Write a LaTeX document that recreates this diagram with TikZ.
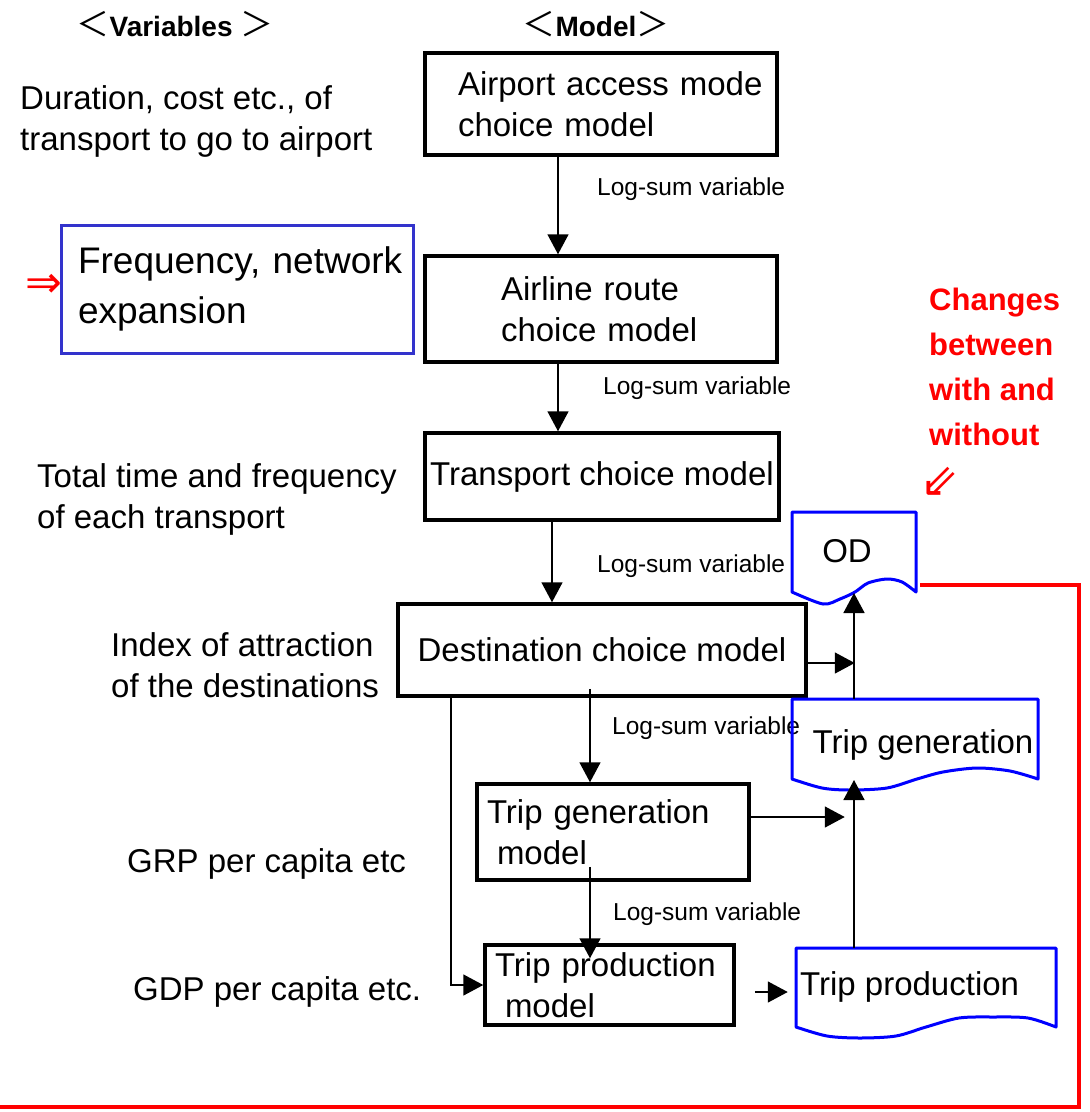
\documentclass[tikz,border=0pt]{standalone}
\usepackage{fontspec}
\setmainfont{Liberation Sans}
\newfontfamily\cjk{Noto Sans CJK JP}
\newfontfamily\dvs{DejaVu Sans}
\usetikzlibrary{arrows.meta,calc}
\definecolor{rred}{RGB}{255,0,0}
\definecolor{dblue}{RGB}{0,0,255}
\definecolor{bblue}{RGB}{51,51,204}
\begin{document}
\begin{tikzpicture}[x=1pt,y=-1pt,
  txt/.style={font=\fontsize{33}{41}\selectfont, inner sep=0pt, align=left, anchor=west},
  small/.style={font=\fontsize{24.5}{30}\selectfont, inner sep=0pt, anchor=west},
  head/.style={font=\fontsize{28}{30}\selectfont\bfseries, inner sep=0pt},
  brk/.style={font=\cjk\mdseries\fontsize{33}{33}\selectfont},
  model/.style={draw, line width=3.5pt, inner sep=0pt, font=\fontsize{33}{41}\selectfont},
  arr/.style={line width=1.6pt, -{Triangle[length=20pt,width=21pt]}},
  docline/.style={draw=dblue, line width=3pt, line join=round},
  redline/.style={draw=rred, line width=4pt},
]
\useasboundingbox (0,0) rectangle (1090,1112);

% headers
\node[head] (hv) at (175,24) {{\cjk\mdseries\fontsize{33}{33}\selectfont ＜}Variables {\cjk\mdseries\fontsize{33}{33}\selectfont ＞}};
\node[head] (hm) at (596,24) {{\cjk\mdseries\fontsize{33}{33}\selectfont ＜}Model{\cjk\mdseries\fontsize{33}{33}\selectfont ＞}};

% variables
\node[txt] (dur) at (20,121.5) {Duration, cost etc., of\\transport to go to airport};
\node[draw=bblue, line width=3pt, inner sep=0pt, minimum width=352pt, minimum height=128pt,
      text width=340pt, align=left, font=\fontsize{37}{50}\selectfont] (freq) at (237,289)
      {\hspace*{11pt}Frequency, network\\\hspace*{11pt}expansion};
\node[inner sep=0pt, text=rred, font=\dvs\fontsize{44}{44}\selectfont] (dbl) at (44,286) {⇒};
\node[txt] (tot) at (37,499) {Total time and frequency\\of each transport};
\node[txt] (idx) at (111,665.5) {Index of attraction\\of the destinations};
\node[txt] (grp) at (127,864) {GRP per capita etc};
\node[txt] (gdp) at (133,992) {GDP per capita etc.};

% models
\node[model, minimum width=352pt, minimum height=102pt, text width=340pt, align=left] (acm) at (601,104)
  {\hspace*{27pt}Airport access mode\\\hspace*{27pt}choice model};
\node[model, minimum width=352pt, minimum height=106pt, text width=200pt, align=left] (arm) at (601,309)
  {Airline route\\choice model};
\node[model, minimum width=354pt, minimum height=87pt] (tcm) at (602,476.5) {Transport choice model};
\node[model, minimum width=408pt, minimum height=92pt] (dcm) at (602,650) {Destination choice model};
\node[model, minimum width=272pt, minimum height=96pt, text width=252pt, align=left] (tgm) at (613,832)
  {Trip generation\\\hspace*{10pt}model};
\node[model, minimum width=249pt, minimum height=80pt, text width=229pt, align=left] (tpm) at (609.5,985)
  {Trip production\\\hspace*{10pt}model};

% log-sum labels
\node[small] (l1) at (597,189) {Log-sum variable};
\node[small] (l2) at (603,388) {Log-sum variable};
\node[small] (l3) at (597,566) {Log-sum variable};
\node[small] (l4) at (612,728) {Log-sum variable};
\node[small] (l5) at (613,914) {Log-sum variable};

% red note
\node[inner sep=0pt, anchor=west, align=left, text=rred, font=\fontsize{31}{45}\selectfont\bfseries] (note) at (929,367)
  {Changes\\between\\with and\\without};
\node[inner sep=0pt, text=rred, font=\dvs\fontsize{46}{46}\selectfont] (sw) at (940,482) {⇙};

% document shapes
\draw[docline] plot[smooth, tension=0.5] coordinates {(916,592) (902,582) (887,579) (868,583) (855,592) (840,599) (823,604) (792,592)} -- (792,512) -- (916,512) -- cycle;
\node[inner sep=0pt, font=\fontsize{33}{41}\selectfont] (od) at (847,551) {OD};
\coordinate (odB) at (854,593);
\coordinate (odR) at (920,585);

\draw[docline] plot[smooth, tension=0.5] coordinates {(1038,779) (1010,771) (977,768) (943,772) (917,779) (887,788) (850,790) (822,788) (792,779)} -- (792,699) -- (1038,699) -- cycle;
\node[inner sep=0pt, font=\fontsize{33}{41}\selectfont] (tgd) at (923,745) {Trip generation};
\coordinate (tgdB) at (854,780);
\coordinate (tgdT) at (854,699);

\draw[docline] plot[smooth, tension=0.5] coordinates {(1056,1027) (1028,1018) (993,1017) (959,1018) (926,1027) (896,1036) (860,1038) (827,1036) (796,1027)} -- (796,948) -- (1056,948) -- cycle;
\node[inner sep=0pt, anchor=west, font=\fontsize{33}{41}\selectfont] (tpd) at (800,987) {Trip production};
\coordinate (tpdT) at (854,948);

% connectors
\coordinate (s1) at ($(acm.south)+(-43,0)$);
\draw[arr] (s1) -- (s1 |- arm.north);
\coordinate (s2) at ($(arm.south)+(-43,0)$);
\draw[arr] (s2) -- (s2 |- tcm.north);
\coordinate (s3) at ($(tcm.south)+(-50,0)$);
\draw[arr] (s3) -- (s3 |- dcm.north);
\coordinate (s4) at ($(dcm.south)+(-12,-9)$);
\draw[arr] (s4) -- (s4 |- tgm.north);
\coordinate (s5) at ($(tgm.south)+(-23,-15)$);
\draw[arr] (s5) -- ($(s5 |- tpm.north)+(0,15)$);
\coordinate (s6) at ($(dcm.south west)+(55,0)$);
\draw[arr] (s6) |- (tpm.west);
\draw[arr] ($(dcm.east)+(0,13)$) -- ++(47,0);
\draw[arr] ($(tgm.east)+(0,-15)$) -- ++(94,0);
\coordinate (sa) at ($(tpm.east)+(19,7)$);
\draw[arr] (sa) -- ++(33,0);
\draw[arr] (tpdT) -- (tgdB);
\draw[arr] (tgdT) -- (odB);

% red boundary
\draw[redline] (odR) -- (1079,585) -- (1079,1107) -- (-5,1107);
\end{tikzpicture}
\end{document}
